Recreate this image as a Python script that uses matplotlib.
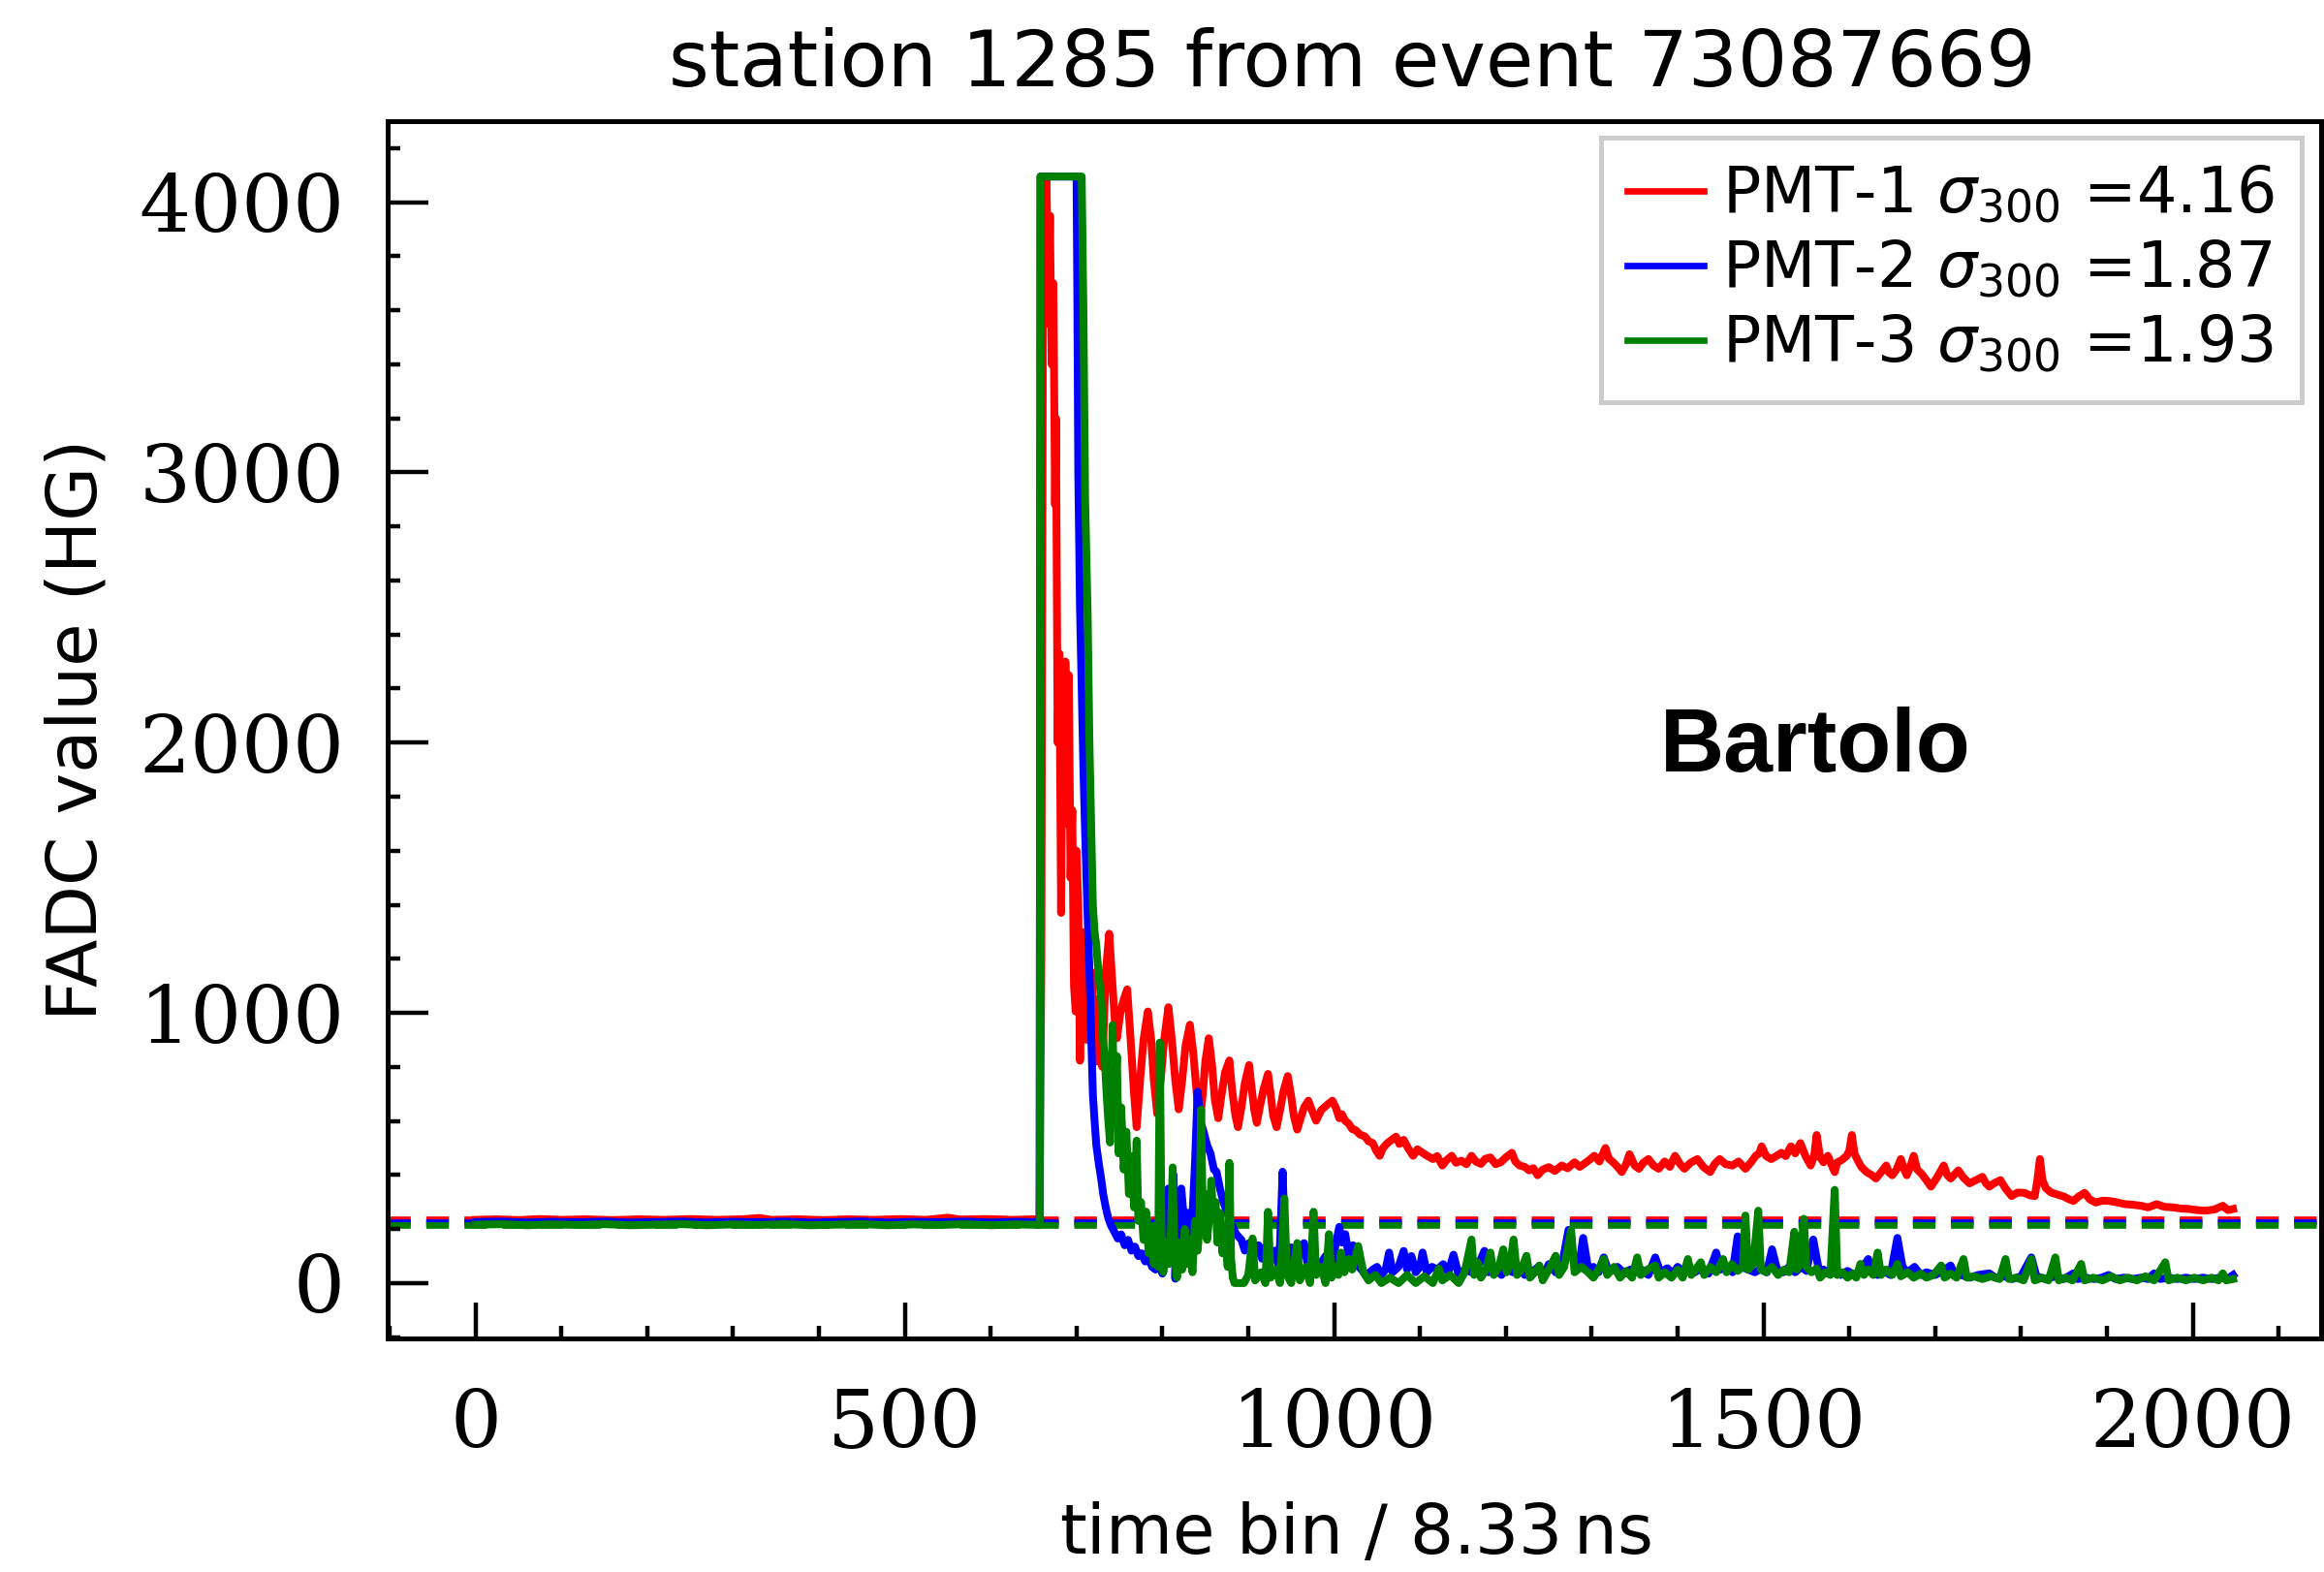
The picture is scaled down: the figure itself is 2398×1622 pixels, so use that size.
import matplotlib
matplotlib.use('Agg')
import matplotlib.pyplot as plt
from matplotlib.ticker import MultipleLocator

# FADC traces as (time bin, ADC value)
red_trace = [
    (0, 234), (25, 236), (50, 233), (75, 237), (100, 234), (130, 236), (160, 233), (190, 236), (220, 234),
    (250, 237), (280, 234), (310, 236), (330, 241), (345, 234), (375, 236), (405, 233), (435, 236), (465, 234),
    (495, 237), (525, 234), (550, 242), (565, 235), (595, 237), (625, 234), (650, 236), (657, 235),
    (659, 1200), (661, 3800), (663, 4095), (665, 4095), (667, 3550), (669, 3950), (671, 3400), (673, 3700),
    (675, 2880), (676, 3200), (678, 2000), (680, 2330), (682, 1370), (684, 2250), (686, 1700), (687, 2300),
    (689, 1780), (691, 2250), (693, 1500), (695, 1750), (697, 1100), (699, 1005), (700, 1600), (702, 1400),
    (704, 823), (706, 1250), (708, 1000), (710, 1300), (712, 900), (714, 1200), (716, 950), (718, 1150),
    (720, 850), (722, 1050), (724, 820), (727, 1000), (730, 800), (734, 1150), (738, 1293), (742, 1100),
    (745, 950), (747, 906), (751, 1000), (755, 1050), (759, 1087), (763, 900), (767, 700), (770, 577),
    (774, 750), (778, 900), (783, 1005), (787, 900), (790, 750), (794, 626), (798, 750), (802, 900),
    (807, 1021), (811, 900), (815, 750), (819, 643), (823, 750), (827, 880), (832, 956), (836, 850),
    (840, 700), (843, 577), (847, 700), (850, 820), (854, 906), (858, 800), (861, 680), (865, 610),
    (869, 700), (873, 780), (878, 824), (881, 720), (885, 620), (888, 577), (892, 650), (896, 740),
    (901, 807), (904, 720), (907, 640), (910, 593), (914, 660), (918, 720), (923, 774), (926, 700),
    (929, 620), (933, 577), (937, 640), (941, 710), (946, 766), (950, 690), (953, 620), (957, 568),
    (961, 610), (965, 650), (970, 675), (974, 640), (979, 601), (985, 640), (992, 660), (998, 675),
    (1002, 649), (1006, 610), (1009, 625), (1013, 600), (1017, 590), (1021, 570), (1025, 566), (1030, 550),
    (1036, 542), (1040, 525), (1045, 518), (1049, 490), (1053, 471), (1057, 500), (1062, 518), (1067, 530),
    (1072, 542), (1076, 515), (1081, 530), (1086, 500), (1092, 471), (1097, 495), (1103, 482), (1109, 470),
    (1115, 459), (1120, 470), (1126, 435), (1131, 455), (1137, 471), (1142, 445), (1148, 453), (1154, 440),
    (1160, 471), (1165, 450), (1171, 441), (1176, 460), (1182, 465), (1188, 440), (1194, 447), (1200, 465),
    (1207, 482), (1211, 450), (1216, 435), (1222, 430), (1227, 417), (1232, 425), (1237, 399), (1243, 420),
    (1250, 429), (1257, 415), (1265, 435), (1272, 425), (1280, 447), (1286, 430), (1291, 441), (1297, 455),
    (1303, 471), (1309, 450), (1316, 500), (1320, 460), (1325, 447), (1330, 430), (1335, 411), (1340, 440),
    (1344, 477), (1350, 435), (1355, 423), (1360, 445), (1366, 459), (1372, 435), (1378, 423), (1385, 450),
    (1391, 430), (1397, 471), (1403, 440), (1408, 423), (1415, 445), (1423, 459), (1430, 430), (1438, 411),
    (1443, 440), (1449, 459), (1456, 440), (1464, 435), (1471, 450), (1479, 423), (1485, 445), (1491, 471),
    (1495, 480), (1498, 506), (1503, 470), (1509, 459), (1515, 470), (1521, 482), (1526, 470), (1532, 506),
    (1537, 480), (1543, 518), (1549, 470), (1555, 435), (1559, 470), (1562, 548), (1566, 465), (1570, 447),
    (1575, 471), (1579, 440), (1583, 411), (1586, 447), (1591, 455), (1597, 471), (1600, 490), (1603, 548),
    (1606, 480), (1609, 459), (1614, 430), (1620, 411), (1626, 400), (1631, 387), (1637, 410), (1643, 435),
    (1646, 410), (1650, 399), (1655, 420), (1660, 459), (1664, 420), (1667, 399), (1671, 430), (1675, 471),
    (1679, 420), (1684, 405), (1690, 380), (1695, 357), (1702, 390), (1710, 435), (1714, 400), (1718, 387),
    (1722, 400), (1727, 417), (1733, 390), (1740, 369), (1747, 380), (1755, 393), (1759, 370), (1763, 357),
    (1769, 370), (1776, 381), (1782, 350), (1789, 322), (1796, 335), (1804, 334), (1810, 325), (1816, 322),
    (1819, 380), (1822, 459), (1825, 380), (1829, 351), (1835, 335), (1842, 328), (1850, 320), (1856, 310),
    (1861, 304), (1867, 320), (1874, 334), (1880, 310), (1887, 298), (1895, 305), (1902, 304), (1910, 300),
    (1921, 292), (1930, 290), (1940, 286), (1948, 280), (1958, 292), (1967, 282), (1977, 280), (1986, 276),
    (1996, 274), (2005, 270), (2015, 268), (2025, 272), (2035, 286), (2041, 270), (2047, 274),
]

blue_trace = [
    (0, 226), (30, 228), (60, 224), (90, 227), (120, 225), (150, 228), (180, 224), (210, 226), (240, 228),
    (270, 224), (300, 227), (330, 225), (360, 228), (390, 224), (420, 226), (450, 228), (480, 224), (510, 227),
    (540, 225), (570, 228), (600, 224), (630, 227), (657, 225),
    (658, 4095), (700, 4095), (701, 3600), (702, 3000), (704, 2500), (706, 2200), (708, 1900), (710, 1664),
    (712, 1450), (714, 1252), (716, 1050), (717, 922), (719, 700), (721, 600), (723, 511), (726, 440),
    (729, 379), (731, 330), (734, 280), (737, 240), (740, 214), (744, 190), (748, 165), (752, 180),
    (756, 140), (760, 160), (764, 120), (768, 135), (772, 100), (776, 110), (780, 80), (784, 90), (788, 60),
    (792, 50), (796, 70), (800, 35), (804, 120), (807, 350), (810, 250), (813, 400), (815, 16), (818, 300),
    (822, 350), (826, 200), (830, 260), (834, 180), (838, 450), (841, 708), (844, 600), (848, 560),
    (852, 511), (856, 480), (860, 420), (863, 412), (867, 350), (871, 300), (875, 264), (880, 220),
    (886, 181), (892, 160), (896, 120), (901, 148), (906, 100), (912, 140), (916, 90), (920, 132), (926, 80),
    (931, 120), (936, 60), (940, 412), (943, 130), (947, 80), (950, 132), (955, 60), (960, 110), (965, 148),
    (970, 50), (976, 90), (983, 66), (990, 100), (996, 40), (1001, 130), (1006, 208), (1009, 150),
    (1013, 181), (1017, 100), (1022, 140), (1026, 70), (1032, 49), (1038, 30),
    (1045, 50), (1050, 60), (1055, 30), (1060, 50), (1064, 113), (1068, 40), (1075, 60), (1081, 119),
    (1085, 50), (1090, 100), (1095, 40), (1100, 60), (1103, 113), (1108, 40), (1114, 60), (1120, 50),
    (1127, 70), (1133, 40), (1139, 105), (1145, 30), (1152, 50), (1160, 40), (1167, 60), (1175, 119),
    (1180, 40), (1188, 50), (1195, 30), (1200, 60), (1208, 40), (1215, 60), (1222, 30), (1230, 40),
    (1238, 60), (1244, 30), (1250, 70), (1258, 40), (1265, 60), (1273, 197), (1279, 80), (1285, 60),
    (1290, 167), (1296, 50), (1302, 60), (1308, 40), (1314, 95), (1320, 40), (1330, 60), (1338, 35),
    (1345, 50), (1350, 40), (1358, 50), (1366, 30), (1374, 95), (1380, 40), (1388, 55), (1395, 35),
    (1400, 60), (1408, 40), (1414, 50), (1420, 40), (1428, 55), (1436, 35), (1445, 113), (1450, 50),
    (1458, 60), (1464, 40), (1470, 173), (1475, 60), (1482, 50), (1490, 40), (1498, 55), (1504, 40),
    (1510, 125), (1516, 50), (1523, 40), (1530, 60), (1537, 40), (1544, 60), (1550, 45), (1558, 161),
    (1565, 40), (1570, 50), (1576, 35), (1582, 40), (1590, 30), (1598, 45), (1606, 30), (1614, 50),
    (1622, 89), (1626, 40), (1633, 30), (1640, 45), (1648, 30), (1656, 167), (1662, 60), (1668, 40),
    (1676, 60), (1683, 30), (1690, 40), (1700, 30), (1709, 45), (1718, 65), (1723, 30), (1730, 30),
    (1740, 20), (1750, 30), (1763, 36), (1770, 20), (1780, 25), (1790, 15), (1800, 25), (1812, 95),
    (1818, 25), (1828, 15), (1840, 25), (1850, 15), (1861, 36), (1866, 15), (1875, 20), (1885, 15),
    (1894, 20), (1902, 30), (1910, 15), (1920, 20), (1930, 15), (1940, 20), (1948, 15), (1955, 36),
    (1962, 15), (1972, 20), (1982, 15), (1992, 20), (2002, 15), (2012, 20), (2022, 15), (2032, 20),
    (2040, 15), (2047, 30),
]

green_trace = [
    (0, 216), (30, 218), (60, 214), (90, 217), (120, 215), (150, 218), (180, 214), (210, 216), (240, 218),
    (270, 214), (300, 217), (330, 215), (360, 218), (390, 214), (420, 216), (450, 218), (480, 214), (510, 217),
    (540, 215), (570, 218), (600, 214), (630, 217), (657, 215),
    (658, 4095), (706, 4095), (708, 3600), (710, 2900), (713, 2466), (715, 2000), (717, 1700), (719, 1400),
    (721, 1300), (723, 1250), (725, 1170), (727, 1100), (729, 1040), (731, 900), (733, 820), (735, 700),
    (737, 600), (739, 520), (742, 955), (744, 620), (747, 840), (749, 480), (752, 650), (755, 420),
    (758, 560), (761, 330), (764, 470), (767, 280), (770, 527), (772, 230), (775, 300), (778, 160),
    (781, 264), (784, 110), (787, 200), (790, 70), (792, 140), (795, 60), (797, 890), (799, 180), (801, 40),
    (804, 150), (807, 70), (810, 200), (812, 428), (814, 90), (817, 20), (820, 150), (823, 50), (826, 200),
    (829, 70), (832, 160), (835, 40), (838, 230), (841, 120), (843, 200), (845, 642), (847, 250), (849, 330),
    (852, 160), (855, 260), (857, 379), (859, 240), (862, 300), (864, 150), (867, 260), (870, 110),
    (873, 200), (876, 60), (878, 445), (880, 90), (882, 20), (884, 0),
    (895, 0), (900, 30), (905, 165), (908, 10), (915, 40), (920, 0), (923, 264), (926, 20), (932, 50),
    (937, 0), (942, 313), (945, 30), (950, 0), (957, 148), (960, 10), (967, 60), (972, 0), (976, 264),
    (979, 30), (985, 60), (990, 0), (994, 181), (997, 20), (1002, 60), (1005, 30), (1008, 113), (1012, 40),
    (1017, 89), (1021, 50), (1028, 137), (1034, 40), (1040, 10), (1048, 30), (1055, 0), (1065, 20),
    (1075, 0), (1085, 30), (1095, 0), (1105, 25), (1115, 0), (1122, 54), (1126, 10), (1135, 30), (1145, 0),
    (1152, 40), (1160, 161), (1163, 30), (1167, 77), (1171, 20), (1177, 50), (1182, 113), (1186, 30),
    (1192, 60), (1197, 125), (1201, 40), (1205, 70), (1209, 161), (1213, 30), (1218, 50), (1224, 101),
    (1228, 20), (1234, 40), (1239, 65), (1243, 10), (1250, 50), (1258, 101), (1262, 30), (1268, 60),
    (1276, 197), (1280, 40), (1288, 60), (1295, 42), (1302, 20), (1308, 50), (1314, 89), (1318, 30),
    (1326, 60), (1333, 20), (1340, 45), (1347, 20), (1353, 95), (1357, 30), (1365, 50), (1374, 65),
    (1378, 20), (1385, 40), (1393, 20), (1400, 50), (1406, 20), (1412, 89), (1416, 30), (1421, 50),
    (1427, 77), (1431, 30), (1438, 60), (1445, 40), (1453, 89), (1457, 40), (1463, 70), (1470, 45),
    (1476, 60), (1479, 250), (1482, 50), (1488, 70), (1494, 268), (1497, 50), (1503, 40), (1510, 60),
    (1517, 30), (1524, 50), (1530, 40), (1536, 190), (1539, 50), (1543, 80), (1547, 238), (1550, 60),
    (1556, 40), (1562, 54), (1566, 20), (1572, 40), (1578, 30), (1583, 345), (1586, 30), (1592, 40),
    (1598, 20), (1604, 35), (1608, 20), (1613, 71), (1617, 30), (1622, 50), (1628, 30), (1633, 113),
    (1637, 30), (1643, 50), (1650, 30), (1656, 71), (1660, 25), (1668, 40), (1675, 20), (1683, 35),
    (1690, 20), (1698, 30), (1707, 65), (1711, 20), (1718, 35), (1725, 20), (1733, 89), (1737, 20),
    (1745, 25), (1755, 15), (1765, 25), (1775, 15), (1782, 89), (1786, 15), (1795, 20), (1803, 10),
    (1812, 89), (1816, 10), (1825, 20), (1832, 10), (1840, 95), (1844, 10), (1852, 20), (1860, 10),
    (1870, 71), (1874, 10), (1884, 20), (1895, 10), (1905, 25), (1915, 10), (1925, 20), (1935, 10),
    (1945, 25), (1955, 10), (1968, 77), (1972, 10), (1982, 20), (1992, 10), (2002, 20), (2012, 10),
    (2022, 20), (2030, 10), (2035, 36), (2039, 10), (2047, 15),
]

baselines = [236, 225, 214]
sigmas = [4.16, 1.87, 1.93]
pmt_names = ['PMT-1', 'PMT-2', 'PMT-3']
colors = ['#ff0000', '#0000ff', '#008000']

fig = plt.figure(figsize=(11.99, 8.11), dpi=200)
ax = fig.add_axes([0.1668, 0.1486, 0.8319, 0.7743])

for base, col in zip(baselines, colors):
    ax.axhline(base, color=col, lw=2.4, dashes=(3.5, 2.4), zorder=1)

for trace, name, sig, col in zip([red_trace, blue_trace, green_trace], pmt_names, sigmas, colors):
    t = [p[0] for p in trace]
    v = [p[1] for p in trace]
    ax.plot(t, v, color=col, lw=2.9, zorder=2,
            label=name + r' $\sigma_{300}$ =' + f'{sig:.2f}')

ax.set_xlim(-102.35, 2149.35)
ax.set_ylim(-204.75, 4299.75)
ax.xaxis.set_major_locator(MultipleLocator(500))
ax.xaxis.set_minor_locator(MultipleLocator(100))
ax.yaxis.set_major_locator(MultipleLocator(1000))
ax.yaxis.set_minor_locator(MultipleLocator(200))
ax.tick_params(which='both', direction='in', top=False, right=False, width=1.6,
               labelsize=30, labelfontfamily='DejaVu Serif')
ax.tick_params(axis='x', which='major', length=13.5, pad=18)
ax.tick_params(axis='y', which='major', length=15, pad=16)
ax.tick_params(which='minor', length=4.8)
for sp in ax.spines.values():
    sp.set_linewidth(1.8)

leg = ax.legend(loc='upper right', bbox_to_anchor=(0.99, 0.9865), borderaxespad=0,
                fontsize=23.5, handlelength=1.2, handletextpad=0.3, labelspacing=0.2,
                borderpad=0.42, fancybox=False, framealpha=1)
leg.get_frame().set_edgecolor('#cccccc')
leg.get_frame().set_linewidth(1.8)
for line in leg.get_lines():
    line.set_linewidth(2.4)

ax.text(1561, 1895, 'Bartolo', fontsize=33, fontweight='bold', family='Liberation Sans',
        ha='center', va='baseline')

fig.text(0.5817, 0.9453, 'station 1285 from event 73087669', fontsize=29, ha='center', va='baseline')
fig.text(0.0334, 0.5358, 'FADC value (HG)', fontsize=26, rotation=90, ha='center', va='center')
fig.text(0.583, 0.012, 'time bin / 8.33$\\,$ns', fontsize=25.5, ha='center', va='baseline')

fig.savefig('out.png', dpi=200)
